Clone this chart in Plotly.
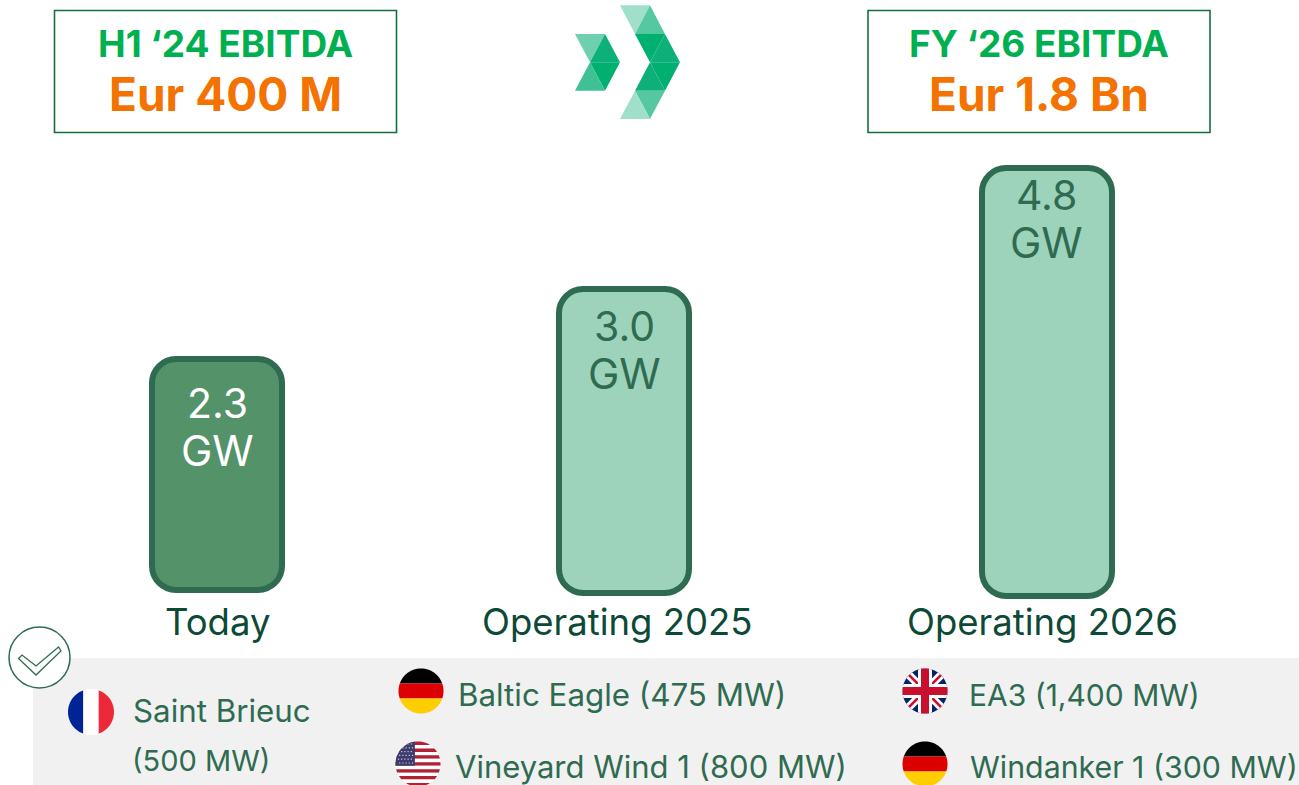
import math
import plotly.graph_objects as go

W, H = 1299, 785
# ---- data
categories = ["Today", "Operating 2025", "Operating 2026"]
capacity_gw = ["2.3", "3.0", "4.8"]
# Bars are not drawn to scale in the source: extents, in y-axis units
bar_tops = [359, 289, 168]
bar_bottoms = [590, 593, 596]
bar_centres = [217, 624, 1046.5]
bar_fills = ["#54926a", "#9dd3bb", "#9dd3bb"]
bar_text_colours = ["#ffffff", "#2f6b50", "#2f6b50"]
header_titles = ["H1 ‘24 EBITDA", "FY ‘26 EBITDA"]
header_values = ["Eur 400 M", "Eur 1.8 Bn"]
projects = ["Saint Brieuc", "(500 MW)", "Baltic Eagle (475 MW)", "Vineyard Wind 1 (800 MW)",
            "EA3 (1,400 MW)", "Windanker 1 (300 MW)"]

BORDER = "#2f6b50"; DARK = "#0c4a36"; GREEN = "#00b050"; ORANGE = "#f47200"; FONT = "Inter"

fig = go.Figure()
fig.add_trace(go.Bar(x=bar_centres, y=[b - t for t, b in zip(bar_tops, bar_bottoms)], base=bar_tops,
                     width=130, showlegend=False, hoverinfo="skip",
                     marker=dict(color=bar_fills, line=dict(color=BORDER, width=6), cornerradius=24)))

shapes, annotations = [], []

def txt(x, y, text, size, colour, anchor="center", bold=False):
    annotations.append(dict(x=x, y=y, xref="x", yref="y", text=f"<b>{text}</b>" if bold else text, showarrow=False,
                            xanchor=anchor, yanchor="middle", font=dict(size=size, color=colour, family=FONT)))

def rect(x0, y0, x1, y1, fill, line=None, lw=0):
    shapes.append(dict(type="rect", xref="x", yref="y", x0=x0, y0=y0, x1=x1, y1=y1, fillcolor=fill,
                       line=dict(color=line or fill, width=lw), layer="below"))

def poly(pts, fill, layer="above"):
    p = "M" + "L".join(f"{x:.2f},{y:.2f}" for x, y in pts) + "Z"
    shapes.append(dict(type="path", xref="x", yref="y", path=p, fillcolor=fill, line=dict(width=0), layer=layer))

# ---- clipping a flag element to its round badge
def clip(subject, cx, cy, r, n=72):
    out = subject
    for i in range(n):
        a0, a1 = 2 * math.pi * i / n, 2 * math.pi * (i + 1) / n
        ax, ay = cx + r * math.cos(a0), cy + r * math.sin(a0)
        bx, by = cx + r * math.cos(a1), cy + r * math.sin(a1)
        side = lambda p: (bx - ax) * (p[1] - ay) - (by - ay) * (p[0] - ax)
        res = []
        for j, p in enumerate(out):
            q = out[(j + 1) % len(out)]
            sp, sq = side(p), side(q)
            if sp >= 0:
                res.append(p)
            if sp * sq < 0:
                t = sp / (sp - sq)
                res.append((p[0] + t * (q[0] - p[0]), p[1] + t * (q[1] - p[1])))
        out = res
        if not out:
            return []
    return out

def fl(cx, cy, r, pts, colour):
    c = clip(pts, cx, cy, r)
    if c:
        poly(c, colour)

def box(x0, y0, x1, y1):
    return [(x0, y0), (x1, y0), (x1, y1), (x0, y1)]

def france(cx, cy, r):
    for i, c in enumerate(["#002395", "#ffffff", "#ed2939"]):
        fl(cx, cy, r, box(cx - r + i * 2 * r / 3, cy - r, cx - r + (i + 1) * 2 * r / 3, cy + r), c)

def germany(cx, cy, r):
    for i, c in enumerate(["#000000", "#dd0000", "#ffce00"]):
        fl(cx, cy, r, box(cx - r, cy - r + i * 2 * r / 3, cx + r, cy - r + (i + 1) * 2 * r / 3), c)

def usa(cx, cy, r):
    h = 2 * r / 13
    for i in range(13):
        fl(cx, cy, r, box(cx - r, cy - r + i * h, cx + r, cy - r + (i + 1) * h), "#b22234" if i % 2 == 0 else "#ffffff")
    fl(cx, cy, r, box(cx - r, cy - r, cx - r * 0.14, cy - r + 7 * h), "#3c3b6e")
    for row in range(6):
        for col in range(6):
            x = cx - r + 3 + col * 3.2 + (row % 2) * 1.2
            y = cy - r + 2.5 + row * 1.9 * 2
            if (x - cx) ** 2 + (y - cy) ** 2 < r * r and x < cx - r * 0.16:
                fl(cx, cy, r, box(x - .6, y - .6, x + .6, y + .6), "#c9c9e0")

def uk(cx, cy, r):
    fl(cx, cy, r, box(cx - r, cy - r, cx + r, cy + r), "#012169")
    def band(x0, y0, x1, y1, w):
        L = math.hypot(x1 - x0, y1 - y0); nx, ny = -(y1 - y0) / L * w / 2, (x1 - x0) / L * w / 2
        return [(x0 + nx, y0 + ny), (x1 + nx, y1 + ny), (x1 - nx, y1 - ny), (x0 - nx, y0 - ny)]
    a = r * 1.0
    fl(cx, cy, r, band(cx - a, cy - a, cx + a, cy + a, 8), "#ffffff")
    fl(cx, cy, r, band(cx - a, cy + a, cx + a, cy - a, 8), "#ffffff")
    fl(cx, cy, r, band(cx - a, cy - a, cx + a, cy + a, 2.6), "#c8102e")
    fl(cx, cy, r, band(cx - a, cy + a, cx + a, cy - a, 2.6), "#c8102e")
    fl(cx, cy, r, box(cx - 7, cy - r, cx + 7, cy + r), "#ffffff")
    fl(cx, cy, r, box(cx - r, cy - 7, cx + r, cy + 7), "#ffffff")
    fl(cx, cy, r, box(cx - 4, cy - r, cx + 4, cy + r), "#c8102e")
    fl(cx, cy, r, box(cx - r, cy - 4, cx + r, cy + 4), "#c8102e")

# ---- panel, header boxes
rect(33, 658, W + 5, H + 5, "#f1f1f1")
for x0, title, value in zip((54.5, 868), header_titles, header_values):
    rect(x0, 10.5, x0 + 342, 132.5, "#ffffff", "#12703f", 1.6)
for cx, title, value in zip((225.5, 1039), header_titles, header_values):
    txt(cx, 43, title, 37, GREEN, bold=True)
    txt(cx, 94, value, 46, ORANGE, bold=True)

# ---- logo
def z(pts):
    return [(560 + a / 3, b / 3) for a, b in pts]
logo = [
    ([(45, 102), (135, 102), (90, 187)], "#6fd0b0"), ([(135, 102), (90, 187), (180, 187)], "#0eb079"),
    ([(90, 187), (180, 187), (135, 272)], "#00b070"), ([(90, 187), (45, 272), (135, 272)], "#3fc095"),
    ([(180, 16), (270, 16), (225, 102)], "#a0e0ca"), ([(270, 16), (225, 102), (315, 102)], "#55c8a2"),
    ([(225, 102), (315, 102), (270, 187)], "#00b070"), ([(315, 102), (270, 187), (360, 187)], "#0eb079"),
    ([(270, 187), (360, 187), (315, 272)], "#00b070"), ([(270, 187), (225, 272), (315, 272)], "#0eb079"),
    ([(225, 272), (315, 272), (270, 357)], "#55c8a2"), ([(225, 272), (180, 357), (270, 357)], "#a0e0ca"),
]
for pts, c in logo:
    poly(z(pts), c)

# ---- bar and category labels
label_ys = [403, 326, 195]
for cx, lab, col, y in zip(bar_centres, capacity_gw, bar_text_colours, label_ys):
    txt(cx, y, lab, 41, col)
    txt(cx, y + 47, "GW", 42, col)
for x, c in zip((217, 617, 1042.5), categories):
    txt(x, 622, c, 36.5, DARK)

# ---- check badge
shapes.append(dict(type="circle", xref="x", yref="y", x0=9, y0=627, x1=70, y1=688, fillcolor="#ffffff",
                   line=dict(color=BORDER, width=1.5)))
shapes.append(dict(type="path", xref="x", yref="y",
                   path="M18.5,658.5L22,655L36,666L58.5,647L61,651L36,675Z",
                   fillcolor="rgba(0,0,0,0)", line=dict(color=BORDER, width=1.3)))

# ---- flags and project labels
france(91, 712, 23)
germany(421, 691, 22.5)
usa(418, 764, 22.5)
uk(925, 691, 22.5)
germany(925, 764, 22.5)
for x, y, t, s in zip((131, 130, 456, 452.5, 967, 967.5), (711, 760, 695, 766.5, 695, 766.5), projects,
                      (31.3, 29, 31.3, 31, 30, 30.3)):
    txt(x, y, t, s, BORDER, anchor="left")

fig.update_layout(width=W, height=H, margin=dict(l=0, r=0, t=0, b=0), barmode="overlay", bargap=0,
                  paper_bgcolor="#ffffff", plot_bgcolor="#ffffff", showlegend=False,
                  xaxis=dict(range=[0, W], visible=False, fixedrange=True),
                  yaxis=dict(range=[H, 0], visible=False, fixedrange=True),
                  shapes=shapes, annotations=annotations)
fig.write_html("out.html", config={"displayModeBar": False},
               post_script="document.body.style.margin='0';document.body.style.overflow='hidden';")
